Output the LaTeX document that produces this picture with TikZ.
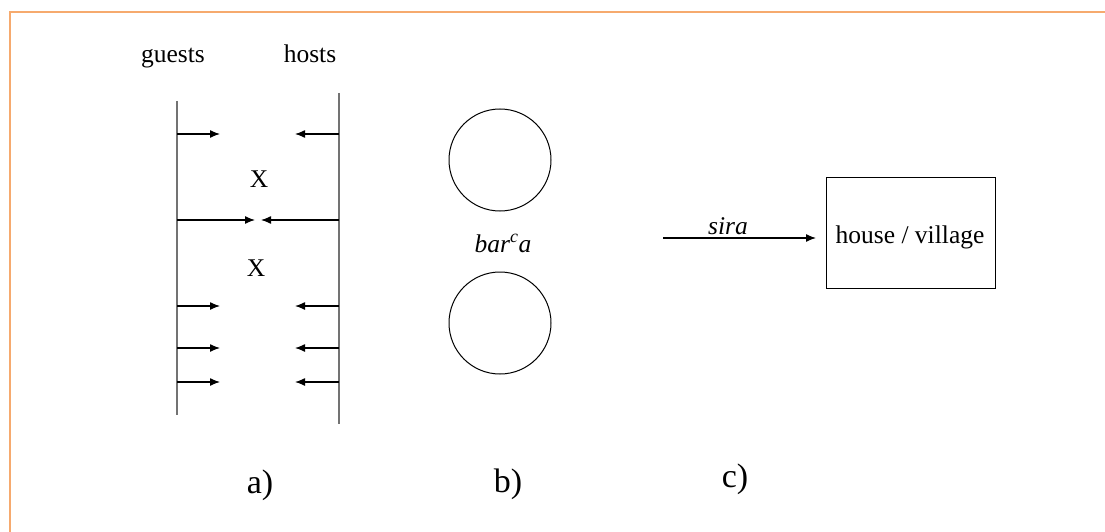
\documentclass[tikz,border=0pt]{standalone}
\usepackage{fontspec}
\setmainfont{Liberation Serif}
\usetikzlibrary{arrows.meta}
\definecolor{frameorange}{RGB}{246,170,110}
\tikzset{
  txt/.style={font=\fontsize{25.5}{30}\selectfont, inner sep=0pt, anchor=base},
  caption/.style={font=\fontsize{34}{40}\selectfont, inner sep=0pt, anchor=base},
  wall/.style={line width=1.5pt, draw=black!55},
  move/.style={line width=1.3pt, -{Latex[length=10pt,width=8pt]}},
  ring/.style={circle, draw, line width=1pt, minimum size=102pt, inner sep=0pt},
  house/.style={rectangle, draw, line width=1pt, minimum width=169pt, minimum height=111pt}
}
\begin{document}
\begin{tikzpicture}[x=1pt, y=-1pt]
    \useasboundingbox (0,0) rectangle (1105,532);
    % Rahmen
    \draw[frameorange, line width=1.5pt] (10,532) -- (10,12) -- (1105,12);

    % a) Gäste und Gastgeber
    \node[txt] (guests) at (173,63) {guests};
    \node[txt] (hosts) at (310,63) {hosts};
    \coordinate (G1) at (177,101);
    \coordinate (G2) at (177,415);
    \coordinate (H1) at (339,93);
    \coordinate (H2) at (339,424);
    \draw[wall] (G1) -- (G2);
    \draw[wall] (H1) -- (H2);

    \foreach \y/\n in {134/1, 306/3, 348/4, 382/5} {
      \coordinate (gs\n) at (177,\y);
      \coordinate (ge\n) at (220,\y);
      \coordinate (hs\n) at (339,\y);
      \coordinate (he\n) at (295,\y);
      \draw[move] (gs\n) -- (ge\n);
      \draw[move] (hs\n) -- (he\n);
    }
    % mittlere Reihe
    \coordinate (gs2) at (177,220);
    \coordinate (ge2) at (255,220);
    \coordinate (hs2) at (339,220);
    \coordinate (he2) at (261,220);
    \draw[move] (gs2) -- (ge2);
    \draw[move] (hs2) -- (he2);

    \node[txt] (x1) at (259,187) {X};
    \node[txt] (x2) at (256,276) {X};

    % b) zwei Kreise
    \node[ring] (upper) at (500,160) {};
    \node[ring] (lower) at (500,323) {};
    \node[txt] (barca) at (503,252) {\textit{bar\textsuperscript{c}a}};

    % c) Pfeil zum Haus
    \node[house] (village) at (910.5,232.5) {};
    \node[txt] (vtext) at (910,243) {house / village};
    \coordinate (start) at (663,238);
    \coordinate (stop) at (816,238);
    \draw[move] (start) -- (stop);
    \node[txt] (sira) at (728,234) {\textit{sira}};

    % Beschriftungen
    \node[caption] (capa) at (260,493) {a)};
    \node[caption] (capb) at (508,492) {b)};
    \node[caption] (capc) at (735,487) {c)};
\end{tikzpicture}
\end{document}
